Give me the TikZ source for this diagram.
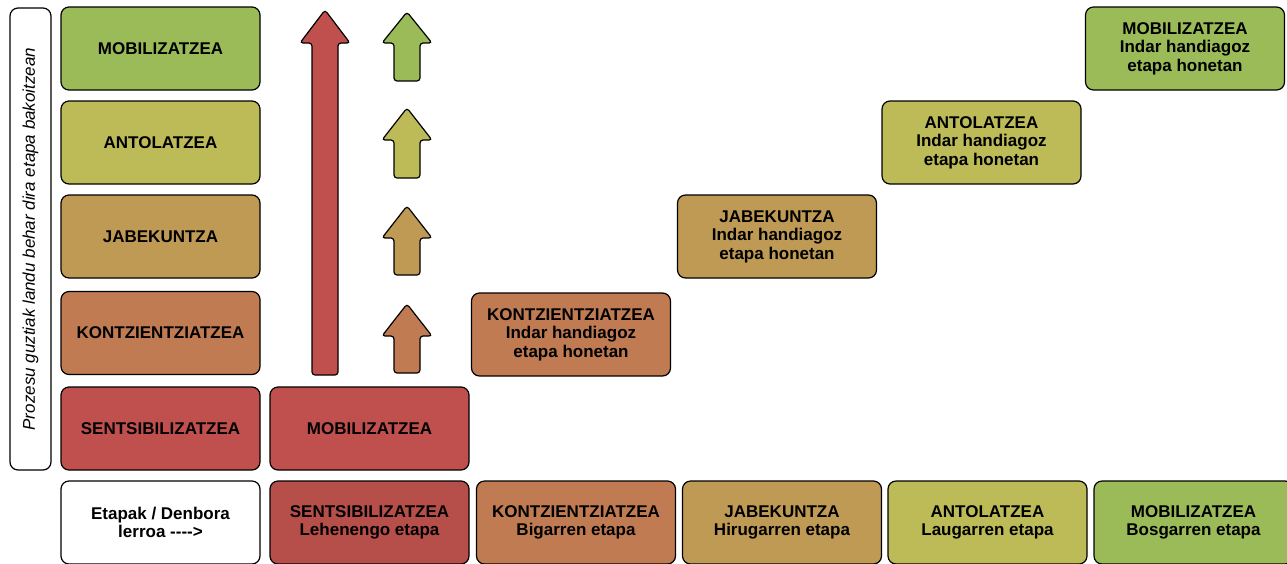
\documentclass[tikz,border=0pt]{standalone}
\usepackage{fontspec}
\setmainfont{Liberation Sans}
\definecolor{cred}{RGB}{192,80,77}
\definecolor{credd}{RGB}{182,78,74}
\definecolor{corange}{RGB}{192,123,82}
\definecolor{ctan}{RGB}{191,154,84}
\definecolor{cyellow}{RGB}{188,187,88}
\definecolor{cgreen}{RGB}{155,187,89}
\tikzset{
  box/.style={draw=black, line width=1.2pt, rounded corners=8pt, align=center,
    font=\bfseries\fontsize{17}{18.5}\selectfont, inner sep=0pt,
    minimum width=199pt, minimum height=83pt},
  uparrow/.style={draw=black, line width=1.2pt, rounded corners=3pt},
}
\newcommand{\uparr}[5]{% cx, tip, headbase, bottom, colour
  \draw[uparrow, fill=#5] (#1,#2) -- (#1+25,#3) -- (#1+13,#3) -- (#1+13,#4)
    -- (#1-13,#4) -- (#1-13,#3) -- (#1-25,#3) -- cycle;}
\begin{document}
\begin{tikzpicture}[x=1pt,y=-1pt]
\useasboundingbox (0,0) rectangle (1287,563);
% side label
\node[draw=black, line width=1.2pt, rounded corners=8pt, rotate=90,
  minimum width=462pt, minimum height=41pt, inner sep=0pt,
  font=\itshape\fontsize{17}{18}\selectfont] (side) at (30.5,239)
  {Prozesu guztiak landu behar dira etapa bakoitzean};
% left column
\node[box, fill=cgreen]  (l1) at (160.5,48.5)  {MOBILIZATZEA};
\node[box, fill=cyellow] (l2) at (160.5,142.5) {ANTOLATZEA};
\node[box, fill=ctan]    (l3) at (160.5,236.5) {JABEKUNTZA};
\node[box, fill=corange] (l4) at (160.5,333)   {KONTZIENTZIATZEA};
\node[box, fill=cred]    (l5) at (160.5,428.5) {SENTSIBILIZATZEA};
\node[box, fill=white]   (l6) at (160.5,522.5) {Etapak / Denbora\\lerroa -{}-{}-{}->};
% second column
\node[box, fill=cred]    (m5) at (369.5,428.5) {MOBILIZATZEA};
% bottom row
\node[box, fill=credd]   (b1) at (369.5,522.5) {SENTSIBILIZATZEA\\Lehenengo etapa};
\node[box, fill=corange] (b2) at (576,522.5)   {KONTZIENTZIATZEA\\Bigarren etapa};
\node[box, fill=ctan]    (b3) at (782,522.5)   {JABEKUNTZA\\Hirugarren etapa};
\node[box, fill=cyellow] (b4) at (987.5,522.5) {ANTOLATZEA\\Laugarren etapa};
\node[box, fill=cgreen]  (b5) at (1193.5,522.5){MOBILIZATZEA\\Bosgarren etapa};
% stairs
\node[box, fill=corange] (s2) at (571,334.5)   {KONTZIENTZIATZEA\\Indar handiagoz\\etapa honetan};
\node[box, fill=ctan]    (s3) at (777,236.5)   {JABEKUNTZA\\Indar handiagoz\\etapa honetan};
\node[box, fill=cyellow] (s4) at (981.5,142.5) {ANTOLATZEA\\Indar handiagoz\\etapa honetan};
\node[box, fill=cgreen]  (s5) at (1185,48.5)   {MOBILIZATZEA\\Indar handiagoz\\etapa honetan};
% big red arrow
\uparr{325}{10}{43}{375}{cred}
% small arrows
\uparr{407}{12}{43}{81}{cgreen}
\uparr{407}{108}{140}{178}{cyellow}
\uparr{407}{206}{238}{275}{ctan}
\uparr{407}{304}{336}{373}{corange}
\end{tikzpicture}
\end{document}
